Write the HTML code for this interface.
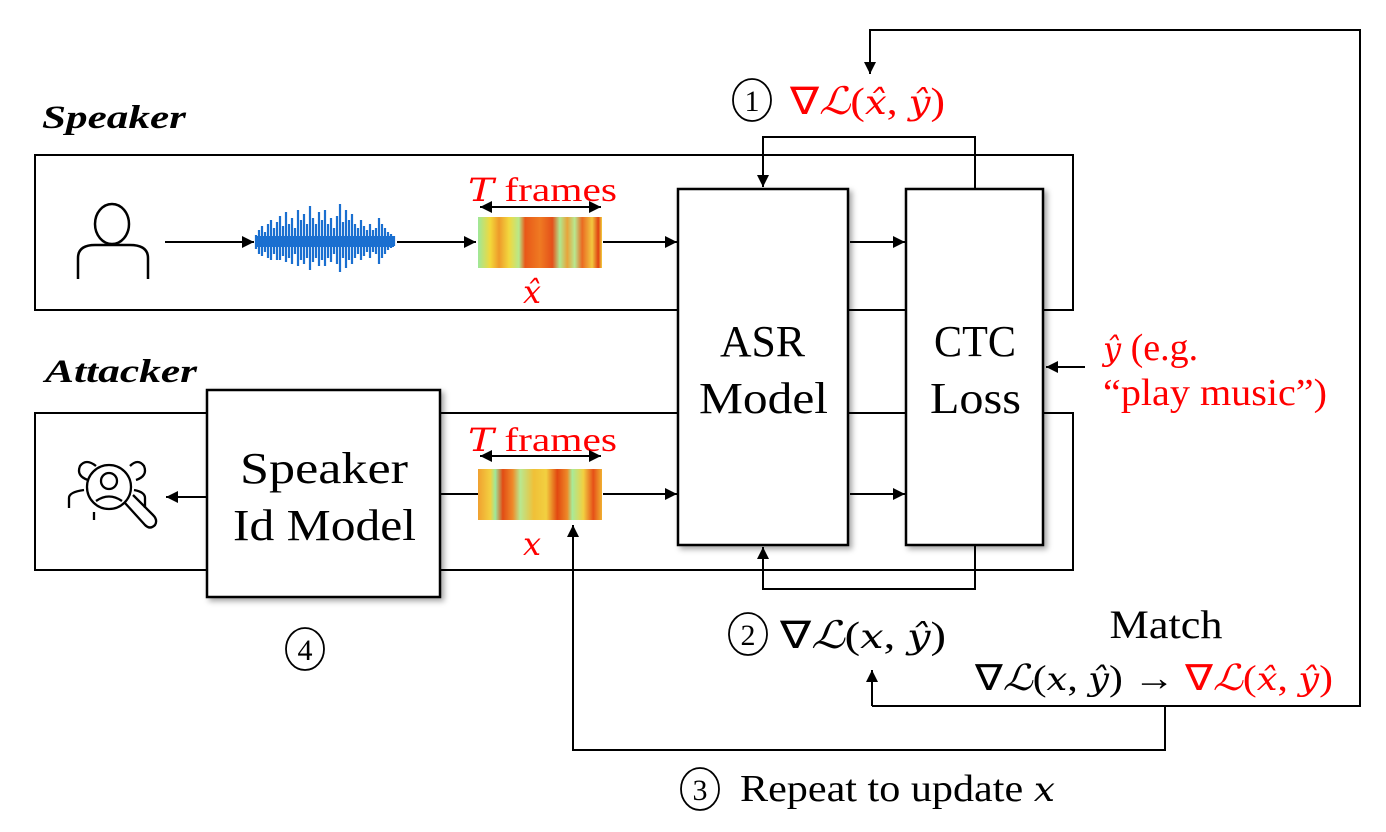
<!DOCTYPE html>
<html><head><meta charset="utf-8"><style>
html,body{margin:0;padding:0;background:#fff;}
svg{display:block;}
text{font-family:"Liberation Serif",serif;}
.m{font-family:"DejaVu Serif","Liberation Serif",serif;font-style:italic;}
</style></head><body>
<svg width="1386" height="832" viewBox="0 0 1386 832" xmlns="http://www.w3.org/2000/svg">
<defs>
<marker id="a" viewBox="0 0 10 10" refX="10" refY="5" markerWidth="12" markerHeight="12" markerUnits="userSpaceOnUse" orient="auto-start-reverse"><path d="M0,0L10,5L0,10z" fill="#000"/></marker>
<filter id="sh" x="-10%" y="-10%" width="130%" height="130%"><feDropShadow dx="3" dy="3" stdDeviation="3" flood-color="#000" flood-opacity="0.35"/></filter>
<linearGradient id="s1" x1="0" x2="1" y1="0" y2="0">
<stop offset="0" stop-color="#9ee89a"/><stop offset="0.1" stop-color="#f3d83a"/><stop offset="0.17" stop-color="#ee9a2a"/><stop offset="0.25" stop-color="#f2d83e"/><stop offset="0.33" stop-color="#b8e88a"/><stop offset="0.38" stop-color="#e85818"/><stop offset="0.5" stop-color="#ef7a22"/><stop offset="0.6" stop-color="#e4501a"/><stop offset="0.66" stop-color="#b0e890"/><stop offset="0.72" stop-color="#e8a43a"/><stop offset="0.78" stop-color="#b8e890"/><stop offset="0.84" stop-color="#ea6a22"/><stop offset="0.92" stop-color="#f2c840"/><stop offset="0.97" stop-color="#e04010"/><stop offset="1" stop-color="#f2d040"/>
</linearGradient>
<linearGradient id="s2" x1="0" x2="1" y1="0" y2="0">
<stop offset="0" stop-color="#f0a030"/><stop offset="0.1" stop-color="#f3d040"/><stop offset="0.14" stop-color="#9ee89a"/><stop offset="0.2" stop-color="#e24c14"/><stop offset="0.28" stop-color="#ef8a2a"/><stop offset="0.34" stop-color="#b8e890"/><stop offset="0.45" stop-color="#f0c038"/><stop offset="0.55" stop-color="#f2d040"/><stop offset="0.64" stop-color="#e24810"/><stop offset="0.72" stop-color="#ee8a28"/><stop offset="0.76" stop-color="#a8ea98"/><stop offset="0.85" stop-color="#f2d040"/><stop offset="0.93" stop-color="#e65018"/><stop offset="1" stop-color="#f0b030"/>
</linearGradient>
</defs>

<rect x="35" y="155" width="1038" height="155" fill="none" stroke="#000" stroke-width="2"/>
<rect x="35" y="413" width="1038" height="157" fill="none" stroke="#000" stroke-width="2"/>

<text x="42" y="128" font-size="33" font-weight="bold" font-style="italic" font-family="Liberation Sans" textLength="144" lengthAdjust="spacingAndGlyphs">Speaker</text>
<text x="45" y="382" font-size="33" font-weight="bold" font-style="italic" font-family="Liberation Sans" textLength="152" lengthAdjust="spacingAndGlyphs">Attacker</text>

<g fill="none" stroke="#000" stroke-width="2.5">
<ellipse cx="112" cy="224" rx="17" ry="20"/>
<path d="M78,279 V258 Q78,245 95,245 H130 Q148,245 148,258 V279"/>
</g>

<g stroke="#1a6fd0" stroke-width="2.2">
<path d="M256,235v14M259,230v24M262,226v30M265,232v20M268,224v34M271,220v40M274,228v26M277,222v38M280,216v44M283,226v30M286,212v50M289,224v34M292,218v46M295,228v26M298,210v56M301,220v40M304,214v50M307,224v34M310,206v64M313,218v44M316,224v34M319,212v54M322,220v40M325,210v56M328,224v34M331,218v44M334,228v26M337,216v48M340,204v68M343,222v36M346,210v58M349,220v40M352,214v50M355,224v34M358,228v26M361,220v40M364,226v30M367,230v22M370,224v34M373,230v22M376,228v26M379,218v46M382,224v34M385,228v26M388,232v18M391,234v14M394,236v10"/>
</g>
<rect x="256" y="236" width="138" height="11" fill="#1a6fd0"/>

<rect x="478" y="217" width="124" height="51" fill="url(#s1)"/>
<rect x="478" y="469" width="124" height="51" fill="url(#s2)"/>

<text x="468" y="201" font-size="34" fill="#f00" textLength="149" lengthAdjust="spacingAndGlyphs"><tspan class="m" font-size="32">T</tspan> frames</text>
<text x="468" y="451" font-size="34" fill="#f00" textLength="149" lengthAdjust="spacingAndGlyphs"><tspan class="m" font-size="32">T</tspan> frames</text>
<g stroke="#000" stroke-width="2">
<line x1="480" y1="207" x2="601" y2="207" marker-start="url(#a)" marker-end="url(#a)"/>
<line x1="480" y1="456" x2="601" y2="456" marker-start="url(#a)" marker-end="url(#a)"/>
</g>
<text x="523" y="303" class="m" font-size="32" fill="#f00">x̂</text>
<text x="523" y="555" class="m" font-size="32" fill="#f00">x</text>

<g stroke="#000" stroke-width="2" fill="none">
<line x1="165" y1="242" x2="254" y2="242" marker-end="url(#a)"/>
<line x1="397" y1="242" x2="476" y2="242" marker-end="url(#a)"/>
<line x1="603" y1="242" x2="677" y2="242" marker-end="url(#a)"/>
<line x1="850" y1="242" x2="905" y2="242" marker-end="url(#a)"/>
<line x1="850" y1="494" x2="905" y2="494" marker-end="url(#a)"/>
<line x1="440" y1="494" x2="478" y2="494"/>
<line x1="603" y1="494" x2="677" y2="494" marker-end="url(#a)"/>
<line x1="207" y1="497" x2="166" y2="497" marker-end="url(#a)"/>
<line x1="1085" y1="367" x2="1046" y2="367" marker-end="url(#a)"/>
<polyline points="975,189 975,137 763,137 763,187" marker-end="url(#a)"/>
<polyline points="975,545 975,589 763,589 763,547" marker-end="url(#a)"/>
<polyline points="872,706 1360,706 1360,30 870,30 870,74" marker-end="url(#a)"/>
<line x1="872" y1="706" x2="872" y2="670" marker-end="url(#a)"/>
<polyline points="1165,706 1165,750 573,750 573,525" marker-end="url(#a)"/>
</g>

<g fill="#fff" stroke="#000" stroke-width="2.5" filter="url(#sh)">
<rect x="207" y="390" width="233" height="207"/>
<rect x="678" y="189" width="170" height="356"/>
<rect x="906" y="189" width="137" height="356"/>
</g>
<text x="240" y="483" font-size="44" textLength="168" lengthAdjust="spacingAndGlyphs">Speaker</text>
<text x="233" y="540" font-size="44" textLength="183" lengthAdjust="spacingAndGlyphs">Id Model</text>
<text x="720" y="356" font-size="44" textLength="85" lengthAdjust="spacingAndGlyphs">ASR</text>
<text x="699" y="413" font-size="44" textLength="129" lengthAdjust="spacingAndGlyphs">Model</text>
<text x="934" y="356" font-size="44" textLength="82" lengthAdjust="spacingAndGlyphs">CTC</text>
<text x="930" y="413" font-size="44" textLength="91" lengthAdjust="spacingAndGlyphs">Loss</text>

<g fill="none" stroke="#000" stroke-width="2.3">
<circle cx="109" cy="487" r="22"/>
<circle cx="109" cy="481" r="8"/>
<path d="M96,501 Q109,492 122,501"/>
<path d="M125,503 L145,525 Q150,530 155,525 Q158,520 153,515 L133,495"/>
<path d="M88,480 Q76,476 80,466 Q86,458 96,466"/>
<path d="M130,466 Q138,458 144,466 Q148,476 136,480"/>
<path d="M69,508 V498 Q69,492 84,490"/>
<path d="M145,508 V498 Q145,492 134,490"/>
<path d="M94,512 V520"/>
</g>

<text x="1103" y="360" font-size="38" fill="#f00"><tspan class="m" font-size="32">ŷ</tspan> (e.g.</text>
<text x="1103" y="405" font-size="38" fill="#f00" textLength="224" lengthAdjust="spacingAndGlyphs">“play music”)</text>

<g fill="none" stroke="#000" stroke-width="1.8">
<ellipse cx="752" cy="100" rx="19" ry="21"/>
<ellipse cx="748" cy="634" rx="19" ry="21"/>
<ellipse cx="700" cy="789" rx="19" ry="21"/>
<ellipse cx="305" cy="649" rx="19" ry="21"/>
</g>
<g font-size="30" text-anchor="middle">
<text x="752" y="111">1</text><text x="748" y="645">2</text><text x="700" y="800">3</text><text x="305" y="660">4</text>
</g>
<text x="790" y="114" font-size="38" fill="#f00" textLength="155" lengthAdjust="spacingAndGlyphs">∇<tspan class="m">ℒ</tspan>(<tspan class="m" font-size="34">x̂</tspan>, <tspan class="m" font-size="34">ŷ</tspan>)</text>
<text x="780" y="648" font-size="38" textLength="166" lengthAdjust="spacingAndGlyphs">∇<tspan class="m">ℒ</tspan>(<tspan class="m" font-size="34">x</tspan>, <tspan class="m" font-size="34">ŷ</tspan>)</text>
<text x="1166" y="638" font-size="40" text-anchor="middle" textLength="113" lengthAdjust="spacingAndGlyphs">Match</text>
<text x="975" y="690" font-size="36" textLength="358" lengthAdjust="spacingAndGlyphs">∇<tspan class="m">ℒ</tspan>(<tspan class="m" font-size="32">x</tspan>, <tspan class="m" font-size="32">ŷ</tspan>) → <tspan fill="#f00">∇<tspan class="m">ℒ</tspan>(<tspan class="m" font-size="32">x̂</tspan>, <tspan class="m" font-size="32">ŷ</tspan>)</tspan></text>
<text x="740" y="801" font-size="38" textLength="315" lengthAdjust="spacingAndGlyphs">Repeat to update <tspan class="m" font-size="34">x</tspan></text>
</svg>
</body></html>
